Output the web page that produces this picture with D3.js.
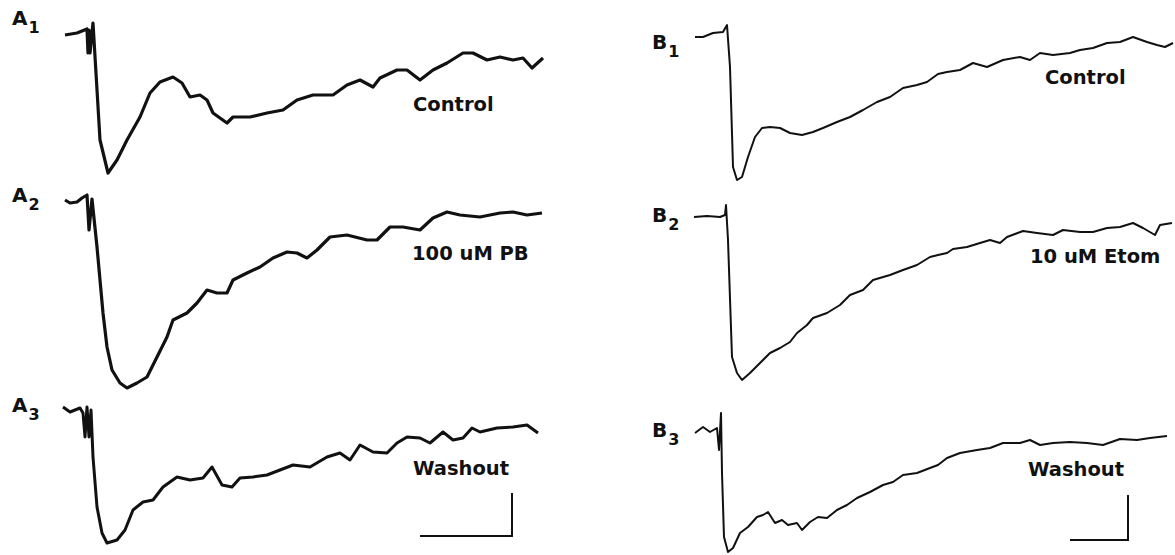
<!DOCTYPE html>
<html>
<head>
<meta charset="utf-8">
<script src="https://cdn.jsdelivr.net/npm/d3@7"></script>
<style>
  body { margin: 0; background: #fff; }
  text { font-family: "DejaVu Sans", sans-serif; font-weight: bold; fill: #111; }
</style>
</head>
<body>
<svg id="chart" width="1175" height="555"></svg>
<script>
// time in ms, current in pA (baseline = 0)
const traceA1 = [[2,-2],[14,0],[24,4],[25,-20],[26,3],[27,-20],[30,10],[37,-107],[45,-140],[54,-127],[64,-107],[77,-84],[87,-60],[97,-49],[110,-44],[119,-50],[127,-64],[137,-62],[144,-67],[150,-80],[164,-90],[170,-84],[187,-84],[204,-80],[220,-77],[234,-67],[250,-62],[270,-62],[284,-52],[297,-47],[310,-54],[317,-45],[334,-37],[344,-37],[357,-47],[370,-37],[384,-30],[400,-20],[410,-20],[424,-27],[437,-24],[450,-27],[460,-25],[469,-35],[480,-25]]
const traceA2 = [[2,0],[7,-3],[14,-2],[19,2],[24,5],[26,-30],[29,1],[34,-47],[40,-113],[44,-147],[49,-170],[57,-183],[64,-188],[74,-183],[84,-177],[94,-157],[104,-137],[110,-120],[124,-113],[134,-103],[144,-90],[154,-93],[164,-93],[170,-80],[184,-73],[197,-67],[210,-58],[224,-52],[234,-53],[244,-58],[254,-50],[267,-37],[284,-35],[304,-40],[314,-40],[327,-27],[340,-27],[357,-30],[370,-18],[384,-12],[397,-15],[417,-17],[437,-13],[450,-12],[464,-15],[479,-13]]
const traceA3 = [[0,1],[7,-4],[17,0],[20,-5],[22,-29],[24,1],[26,-29],[28,-2],[30,-49],[34,-99],[39,-125],[44,-135],[54,-132],[62,-122],[70,-102],[80,-94],[90,-92],[100,-79],[114,-69],[127,-72],[140,-70],[149,-59],[159,-77],[169,-79],[177,-70],[190,-69],[204,-67],[217,-62],[230,-57],[247,-59],[264,-49],[277,-45],[287,-52],[297,-37],[310,-44],[324,-45],[334,-35],[344,-29],[357,-30],[367,-35],[380,-24],[390,-32],[400,-30],[409,-20],[417,-24],[434,-20],[450,-19],[464,-17],[475,-25]]
const traceB1 = [[1,-1],[9,-1],[19,3],[29,4],[33,11],[36,-31],[39,-131],[43,-144],[48,-141],[54,-121],[61,-101],[68,-92],[76,-91],[86,-92],[96,-97],[108,-99],[119,-96],[129,-92],[143,-86],[156,-81],[169,-74],[183,-66],[196,-61],[209,-52],[223,-49],[233,-46],[244,-38],[253,-36],[266,-34],[279,-27],[293,-31],[309,-24],[326,-21],[336,-24],[346,-17],[359,-19],[376,-17],[386,-14],[399,-12],[413,-7],[426,-6],[439,-1],[453,-6],[463,-9],[471,-11],[479,-7]]
const traceB2 = [[0,-1],[13,0],[26,-1],[31,1],[32,11],[34,-24],[38,-141],[43,-157],[48,-164],[56,-157],[66,-147],[76,-137],[86,-132],[96,-126],[103,-117],[113,-109],[119,-102],[133,-97],[146,-89],[156,-79],[169,-74],[179,-64],[196,-59],[209,-54],[223,-49],[236,-41],[244,-39],[253,-37],[259,-33],[273,-31],[286,-27],[296,-24],[306,-27],[313,-21],[329,-15],[343,-17],[359,-19],[369,-14],[386,-16],[399,-16],[413,-12],[426,-11],[439,-7],[449,-12],[461,-19],[466,-9],[478,-7]]
const traceB3 = [[1,-3],[9,3],[16,-2],[23,2],[25,-20],[27,17],[28,-43],[30,-107],[34,-122],[39,-118],[46,-103],[54,-97],[63,-87],[69,-85],[74,-82],[81,-93],[88,-90],[94,-95],[103,-93],[108,-100],[116,-92],[124,-87],[133,-88],[143,-80],[153,-75],[163,-68],[176,-62],[189,-55],[199,-52],[209,-45],[223,-43],[236,-38],[244,-35],[253,-28],[266,-23],[283,-20],[296,-18],[309,-13],[326,-13],[336,-10],[346,-15],[359,-13],[376,-12],[393,-13],[409,-15],[426,-9],[443,-10],[456,-8],[473,-6]]

const panelNames = ["A", "A", "A", "B", "B", "B"]
const panelSubs = ["1", "2", "3", "1", "2", "3"]
const conditions = ["Control", "100 uM PB", "Washout", "Control", "10 uM Etom", "Washout"]
const traces = [traceA1, traceA2, traceA3, traceB1, traceB2, traceB3]

// scale bars: [time ms, amplitude pA]
const scaleBarA = [92, 43]
const scaleBarB = [58, 45]

const svg = d3.select('#chart')

// layout: column left edge, row baseline, label positions
const colX = [63, 63, 63, 694, 694, 694]
const baseY = [33, 200, 408, 36, 216, 430]
const nameX = [12, 12, 12, 652, 652, 652]
const nameY = [25, 202, 412, 49, 222, 437]
const condX = [413, 412, 413, 1045, 1030, 1028]
const condY = [111, 260, 475, 84, 263, 476]
const strokeW = [3.2, 3.2, 3, 2, 2, 2]

traces.forEach((tr, i) => {
  const x = d3.scaleLinear().domain([0, 480]).range([colX[i], colX[i] + 480])
  const y = d3.scaleLinear().domain([-200, 20]).range([baseY[i] + 200, baseY[i] - 20])

  const line = d3.line()
    .x(d => x(d[0]))
    .y(d => y(d[1]))

  svg.append('path')
    .datum(tr)
    .attr('d', line)
    .attr('fill', 'none')
    .attr('stroke', '#111')
    .attr('stroke-width', strokeW[i])
    .attr('stroke-linejoin', 'round')

  // panel label with subscript
  const lab = svg.append('text')
    .attr('x', nameX[i])
    .attr('y', nameY[i])
    .style('font-size', '20px')
  lab.append('tspan').text(panelNames[i])
  lab.append('tspan').attr('dx', 1).attr('dy', 8).style('font-size', '16px').text(panelSubs[i])

  svg.append('text')
    .attr('x', condX[i])
    .attr('y', condY[i])
    .style('font-size', '19.5px')
    .text(conditions[i])

  // scale bars under the bottom traces
  if (i === 2 || i === 5) {
    const bar = i === 2 ? scaleBarA : scaleBarB
    const endT = i === 2 ? 449 : 434
    const endV = i === 2 ? -128 : -110
    const pts = [[endT - bar[0], endV], [endT, endV], [endT, endV + bar[1]]]
    svg.append('path')
      .datum(pts)
      .attr('d', line)
      .attr('fill', 'none')
      .attr('stroke', '#111')
      .attr('stroke-width', 2)
  }
})
</script>
</body>
</html>
